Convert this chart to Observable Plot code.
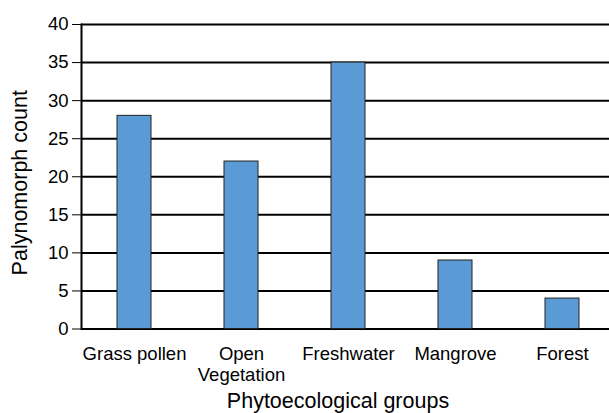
<!DOCTYPE html>
<html>
<head>
<meta charset="utf-8">
<script src="https://cdn.jsdelivr.net/npm/d3@7"></script>
<script src="https://cdn.jsdelivr.net/npm/@observablehq/plot@0.6"></script>
<style>
  html, body { margin: 0; padding: 0; background: #fff; }
  svg { display: block; }
</style>
</head>
<body>
<div id="chart"></div>
<script>
const categories = ["Grass pollen", "Open Vegetation", "Freshwater", "Mangrove", "Forest"];
const tickLabels = ["Grass pollen", "Open\nVegetation", "Freshwater", "Mangrove", "Forest"];
const counts = [28, 22, 35, 9, 4];
const yTicks = [0, 5, 10, 15, 20, 25, 30, 35, 40];
const xTitle = "Phytoecological groups";
const yTitle = "Palynomorph count";

const data = categories.map((c, i) => ({group: c, count: counts[i]}));
const labelOf = new Map(categories.map((c, i) => [c, tickLabels[i]]));
const font = "Liberation Sans, Arial, Helvetica, sans-serif";

const chart = Plot.plot({
  width: 609,
  height: 413,
  marginTop: 24,
  marginBottom: 84.5,
  marginLeft: 81,
  marginRight: 0,
  style: {fontFamily: font, color: "#000", background: "#fff"},
  x: {domain: categories, range: [81, 615], paddingInner: 0.682, paddingOuter: 0.336},
  y: {domain: [0, 40]},
  marks: [
    Plot.ruleY(yTicks, {stroke: "#000", strokeWidth: 2}),
    Plot.barY(data, {x: "group", y: "count", fill: "#5b9bd5", stroke: "#222", strokeWidth: 1}),
    Plot.frame({anchor: "left", stroke: "#000", strokeWidth: 2}),
    Plot.axisY({ticks: yTicks, tickSize: 9, tickPadding: 4, tickWidth: 2, stroke: "#000", fontSize: 18.5, label: null}),
    Plot.axisX({tickSize: 0, tickPadding: 17, fontSize: 18.5, lineHeight: 1.1, tickFormat: d => labelOf.get(d), label: null}),
    Plot.text([xTitle], {frameAnchor: "bottom", lineAnchor: "middle", textAnchor: "middle", dx: -7.5, dy: 72.5, fontSize: 21.5, fill: "#000"}),
    Plot.text([yTitle], {frameAnchor: "left", lineAnchor: "middle", textAnchor: "middle", rotate: -90, dx: -61, dy: 6, fontSize: 21.5, fill: "#000"})
  ]
});
document.getElementById("chart").appendChild(chart);
</script>
</body>
</html>
